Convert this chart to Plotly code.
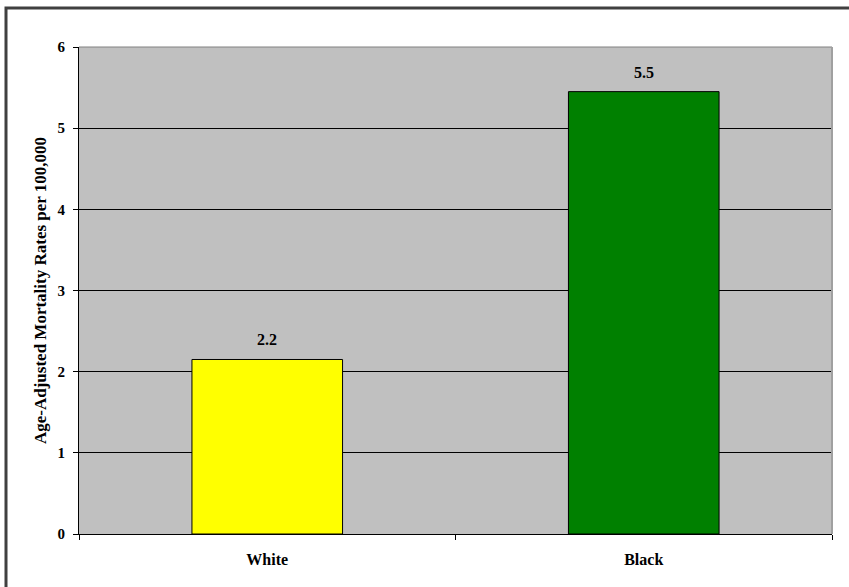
import plotly.graph_objects as go

categories = ["White", "Black"]
values = [2.15, 5.45]
labels = ["2.2", "5.5"]
colors = ["#FFFF00", "#008000"]
y_title = "Age-Adjusted Mortality Rates per 100,000"
y_ticks = [0, 1, 2, 3, 4, 5, 6]

FONT = "Liberation Serif"

fig = go.Figure()
fig.add_trace(go.Bar(
    x=categories, y=values,
    marker=dict(color=colors, line=dict(color="#000000", width=1)),
    width=0.4,
))

for c, v, t in zip(categories, values, labels):
    fig.add_annotation(x=c, y=v, text=t, showarrow=False, yanchor="bottom",
                       yshift=9, font=dict(family=FONT, size=16, color="#000000", weight="bold"))

L, R, T, B = 79, 17, 47, 53
W, H = 849, 587
pw, ph = W - L - R, H - T - B

fig.update_layout(
    width=W, height=H,
    margin=dict(l=L, r=R, t=T, b=B),
    paper_bgcolor="#FFFFFF", plot_bgcolor="#C0C0C0",
    showlegend=False,
    font=dict(family=FONT, size=14, color="#000000"),
    xaxis=dict(
        type="category", tickson="boundaries", ticks="outside", ticklen=5,
        tickcolor="#000000", showline=True, linecolor="#000000", linewidth=1,
        showgrid=False, ticklabelstandoff=11,
        tickfont=dict(family=FONT, size=16, color="#000000", weight="bold"),
        range=[-0.5, 1.5],
    ),
    yaxis=dict(
        range=[0, 6], tickvals=y_ticks, ticks="outside", ticklen=5,
        tickcolor="#000000", showline=True, linecolor="#000000", linewidth=1,
        showgrid=True, gridcolor="#000000", gridwidth=1, zeroline=False,
        ticklabelstandoff=5,
        tickfont=dict(family=FONT, size=15, color="#000000", weight="bold"),
        title=dict(text=y_title, font=dict(family=FONT, size=17, weight="bold"), standoff=6),
    ),
)

# plot area border (top/right gray)
fig.add_shape(type="line", xref="paper", yref="paper", x0=0, x1=1, y0=1, y1=1,
              line=dict(color="#808080", width=1), layer="above")
fig.add_shape(type="line", xref="paper", yref="paper", x0=1, x1=1, y0=0, y1=1,
              line=dict(color="#A0A0A0", width=2), layer="above")

# outer chart border
x_left = (6 - L) / pw
y_top = 1 + (T - 8) / ph
fig.add_shape(type="rect", xref="paper", yref="paper",
              x0=x_left, x1=1.2, y0=-0.3, y1=y_top,
              line=dict(color="#404040", width=3), layer="above")

fig.write_html("out.html")
